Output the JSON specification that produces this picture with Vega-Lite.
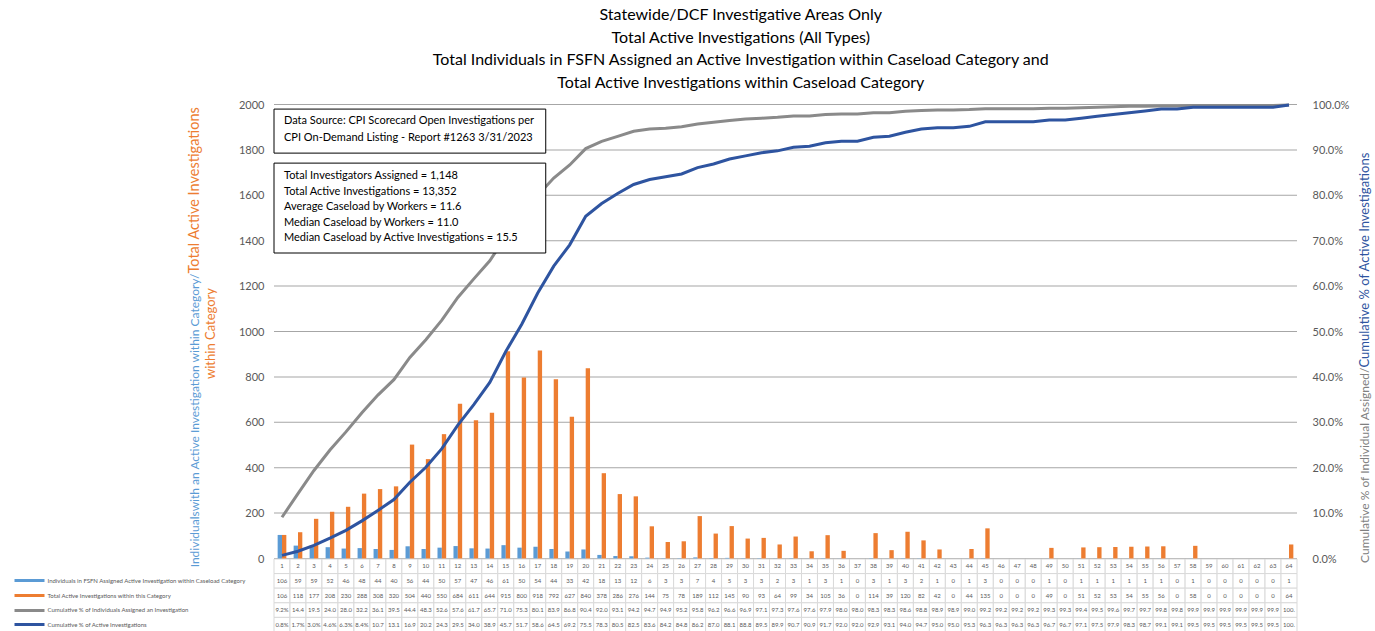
{
  "$schema": "https://vega.github.io/schema/vega-lite/v6.json",
  "padding": {"left": 12, "top": 6, "right": 2, "bottom": 0},
  "background": "white",
  "config": {"font": "Lato", "view": {"stroke": null}},
  "spacing": 0,
  "bounds": "flush",
  "title": {
    "text": ["Statewide/DCF Investigative Areas Only", "Total Active Investigations (All Types)", "Total Individuals in FSFN Assigned an Active Investigation within Caseload Category and", "Total Active Investigations within Caseload Category"],
    "fontSize": 16, "fontWeight": "normal", "color": "#000000", "lineHeight": 22.7, "anchor": "middle", "offset": 8, "dx": 49
  },
  "datasets": {
    "gridlines": [{"g":0},{"g":200},{"g":400},{"g":600},{"g":800},{"g":1000},{"g":1200},{"g":1400},{"g":1600},{"g":1800},{"g":2000}]
  },
  "data": {"values": [
    {"c":1,"ind":106,"act":106,"ci":9.2,"ca":0.8},
    {"c":2,"ind":59,"act":118,"ci":14.4,"ca":1.7},
    {"c":3,"ind":59,"act":177,"ci":19.5,"ca":3.0},
    {"c":4,"ind":52,"act":208,"ci":24.0,"ca":4.6},
    {"c":5,"ind":46,"act":230,"ci":28.0,"ca":6.3},
    {"c":6,"ind":48,"act":288,"ci":32.2,"ca":8.4},
    {"c":7,"ind":44,"act":308,"ci":36.1,"ca":10.7},
    {"c":8,"ind":40,"act":320,"ci":39.5,"ca":13.1},
    {"c":9,"ind":56,"act":504,"ci":44.4,"ca":16.9},
    {"c":10,"ind":44,"act":440,"ci":48.3,"ca":20.2},
    {"c":11,"ind":50,"act":550,"ci":52.6,"ca":24.3},
    {"c":12,"ind":57,"act":684,"ci":57.6,"ca":29.5},
    {"c":13,"ind":47,"act":611,"ci":61.7,"ca":34.0},
    {"c":14,"ind":46,"act":644,"ci":65.7,"ca":38.9},
    {"c":15,"ind":61,"act":915,"ci":71.0,"ca":45.7},
    {"c":16,"ind":50,"act":800,"ci":75.3,"ca":51.7},
    {"c":17,"ind":54,"act":918,"ci":80.1,"ca":58.6},
    {"c":18,"ind":44,"act":792,"ci":83.9,"ca":64.5},
    {"c":19,"ind":33,"act":627,"ci":86.8,"ca":69.2},
    {"c":20,"ind":42,"act":840,"ci":90.4,"ca":75.5},
    {"c":21,"ind":18,"act":378,"ci":92.0,"ca":78.3},
    {"c":22,"ind":13,"act":286,"ci":93.1,"ca":80.5},
    {"c":23,"ind":12,"act":276,"ci":94.2,"ca":82.5},
    {"c":24,"ind":6,"act":144,"ci":94.7,"ca":83.6},
    {"c":25,"ind":3,"act":75,"ci":94.9,"ca":84.2},
    {"c":26,"ind":3,"act":78,"ci":95.2,"ca":84.8},
    {"c":27,"ind":7,"act":189,"ci":95.8,"ca":86.2},
    {"c":28,"ind":4,"act":112,"ci":96.2,"ca":87.0},
    {"c":29,"ind":5,"act":145,"ci":96.6,"ca":88.1},
    {"c":30,"ind":3,"act":90,"ci":96.9,"ca":88.8},
    {"c":31,"ind":3,"act":93,"ci":97.1,"ca":89.5},
    {"c":32,"ind":2,"act":64,"ci":97.3,"ca":89.9},
    {"c":33,"ind":3,"act":99,"ci":97.6,"ca":90.7},
    {"c":34,"ind":1,"act":34,"ci":97.6,"ca":90.9},
    {"c":35,"ind":3,"act":105,"ci":97.9,"ca":91.7},
    {"c":36,"ind":1,"act":36,"ci":98.0,"ca":92.0},
    {"c":37,"ind":0,"act":0,"ci":98.0,"ca":92.0},
    {"c":38,"ind":3,"act":114,"ci":98.3,"ca":92.9},
    {"c":39,"ind":1,"act":39,"ci":98.3,"ca":93.1},
    {"c":40,"ind":3,"act":120,"ci":98.6,"ca":94.0},
    {"c":41,"ind":2,"act":82,"ci":98.8,"ca":94.7},
    {"c":42,"ind":1,"act":42,"ci":98.9,"ca":95.0},
    {"c":43,"ind":0,"act":0,"ci":98.9,"ca":95.0},
    {"c":44,"ind":1,"act":44,"ci":99.0,"ca":95.3},
    {"c":45,"ind":3,"act":135,"ci":99.2,"ca":96.3},
    {"c":46,"ind":0,"act":0,"ci":99.2,"ca":96.3},
    {"c":47,"ind":0,"act":0,"ci":99.2,"ca":96.3},
    {"c":48,"ind":0,"act":0,"ci":99.2,"ca":96.3},
    {"c":49,"ind":1,"act":49,"ci":99.3,"ca":96.7},
    {"c":50,"ind":0,"act":0,"ci":99.3,"ca":96.7},
    {"c":51,"ind":1,"act":51,"ci":99.4,"ca":97.1},
    {"c":52,"ind":1,"act":52,"ci":99.5,"ca":97.5},
    {"c":53,"ind":1,"act":53,"ci":99.6,"ca":97.9},
    {"c":54,"ind":1,"act":54,"ci":99.7,"ca":98.3},
    {"c":55,"ind":1,"act":55,"ci":99.7,"ca":98.7},
    {"c":56,"ind":1,"act":56,"ci":99.8,"ca":99.1},
    {"c":57,"ind":0,"act":0,"ci":99.8,"ca":99.1},
    {"c":58,"ind":1,"act":58,"ci":99.9,"ca":99.5},
    {"c":59,"ind":0,"act":0,"ci":99.9,"ca":99.5},
    {"c":60,"ind":0,"act":0,"ci":99.9,"ca":99.5},
    {"c":61,"ind":0,"act":0,"ci":99.9,"ca":99.5},
    {"c":62,"ind":0,"act":0,"ci":99.9,"ca":99.5},
    {"c":63,"ind":0,"act":0,"ci":99.9,"ca":99.5},
    {"c":64,"ind":1,"act":64,"ci":100,"ca":100}
  ]},
  "vconcat": [
    {
      "width": 1023,
      "height": 454,
      "resolve": {"scale": {"y": "independent"}},
      "layer": [
        {
          "data": {"name": "gridlines"},
          "mark": {"type": "rect", "fill": "#a6a6a6", "y2Offset": -1},
          "encoding": {
            "x": {"datum": 1, "type": "ordinal", "axis": null, "bandPosition": 0},
            "x2": {"datum": 64, "bandPosition": 1},
            "y": {"field": "g", "type": "quantitative", "scale": {"domain": [0, 2000]}, "axis": null},
            "y2": {"field": "g"}
          }
        },
        {
          "data": {"values": [{}]},
          "mark": {"type": "rule", "opacity": 0},
          "encoding": {
            "y": {"datum": 0, "type": "quantitative", "scale": {"domain": [0, 2000]},
              "axis": {"orient": "left", "labels": false, "ticks": false, "domain": false, "grid": false,
                "title": "Total Active Investigations", "titleColor": "#ed7d31", "titleFontSize": 14.5, "titleFontWeight": "normal",
                "titleAngle": 270, "titleX": -80, "titleY": 168, "titleAlign": "left", "titleBaseline": "middle"}}
          }
        },
        {
          "transform": [{"fold": ["ind", "act"]}],
          "mark": {"type": "bar"},
          "encoding": {
            "x": {"field": "c", "type": "ordinal", "axis": null, "scale": {"paddingInner": 0, "paddingOuter": 0}},
            "xOffset": {"field": "key", "type": "nominal", "scale": {"domain": ["ind", "act"], "paddingInner": 0, "paddingOuter": 0.84}},
            "y": {"field": "value", "type": "quantitative", "scale": {"domain": [0, 2000]},
              "axis": {"orient": "left", "values": [0,200,400,600,800,1000,1200,1400,1600,1800,2000], "format": "d",
                "labelFontSize": 11, "labelColor": "#595959", "labelPadding": 10, "ticks": false, "domain": false, "grid": false,
                "title": "Individualswith an Active Investigation within Category/", "titleColor": "#5b9bd5",
                "titleFontSize": 12, "titleFontWeight": "normal", "titleAngle": 270, "titleX": -80, "titleY": 168,
                "titleAlign": "right", "titleBaseline": "middle"}},
            "color": {"field": "key", "type": "nominal", "scale": {"domain": ["ind", "act", "ci", "ca"], "range": ["#5b9bd5", "#ed7d31", "#8a8a8a", "#2e54a0"]}, "legend": null}
          }
        },
        {
          "data": {"values": [{}]},
          "mark": {"type": "rule", "opacity": 0},
          "encoding": {
            "y": {"datum": 0, "type": "quantitative", "scale": {"domain": [0, 2000]},
              "axis": {"orient": "left", "labels": false, "ticks": false, "domain": false, "grid": false,
                "title": "within Category", "titleColor": "#ed7d31", "titleFontSize": 13, "titleFontWeight": "normal",
                "titleAngle": 270, "titleX": -64, "titleY": 228, "titleAlign": "center", "titleBaseline": "middle"}}
          }
        },
        {
          "transform": [{"fold": ["ci", "ca"]}],
          "mark": {"type": "line", "strokeWidth": 3},
          "encoding": {
            "x": {"field": "c", "type": "ordinal", "axis": null},
            "y": {"field": "value", "type": "quantitative", "scale": {"domain": [0, 100]},
              "axis": {"orient": "right", "values": [0,10,20,30,40,50,60,70,80,90,100], "labelExpr": "format(datum.value, '.1f') + '%'",
                "labelFontSize": 11, "labelColor": "#595959", "labelPadding": 15, "ticks": false, "domain": false, "grid": false,
                "title": "Cumulative % of Individual Assigned/", "titleColor": "#808080", "titleFontSize": 12, "titleFontWeight": "normal",
                "titleAngle": 270, "titleX": 67, "titleY": 262, "titleAlign": "right", "titleBaseline": "middle"}},
            "color": {"field": "key", "type": "nominal", "legend": null}
          }
        },
        {
          "data": {"values": [{}]},
          "mark": {"type": "rule", "opacity": 0},
          "encoding": {
            "y": {"datum": 0, "type": "quantitative", "scale": {"domain": [0, 100]},
              "axis": {"orient": "right", "labels": false, "ticks": false, "domain": false, "grid": false,
                "title": "Cumulative % of Active Investigations", "titleColor": "#2e54a0", "titleFontSize": 13, "titleFontWeight": "normal",
                "titleAngle": 270, "titleX": 67, "titleY": 262, "titleAlign": "left", "titleBaseline": "middle"}}
          }
        },
        {
          "layer": [
            {
              "data": {"values": [{}]},
              "mark": {"type": "rect", "fill": "white", "stroke": "#000000", "strokeWidth": 1},
              "encoding": {
                "x": {"datum": 1, "type": "ordinal", "axis": null, "bandPosition": 0},
                "x2": {"datum": 18, "bandPosition": 0},
                "y": {"datum": 1982, "type": "quantitative", "axis": null, "scale": {"domain": [0, 2000]}},
                "y2": {"datum": 1788}
              }
            },
            {
              "data": {"values": [{}]},
              "mark": {"type": "rect", "fill": "white", "stroke": "#000000", "strokeWidth": 1},
              "encoding": {
                "x": {"datum": 1, "type": "ordinal", "axis": null, "bandPosition": 0},
                "x2": {"datum": 18, "bandPosition": 0},
                "y": {"datum": 1744, "type": "quantitative", "axis": null},
                "y2": {"datum": 1348}
              }
            },
            {
              "data": {"values": [{}]},
              "mark": {"type": "text", "align": "left", "baseline": "middle", "dx": 10, "fontSize": 11, "lineHeight": 17, "color": "#000000",
                "text": ["Data Source: CPI Scorecard Open Investigations per", "CPI On-Demand Listing - Report #1263 3/31/2023"]},
              "encoding": {
                "x": {"datum": 1, "type": "ordinal", "axis": null, "bandPosition": 0},
                "y": {"datum": 1929, "type": "quantitative", "axis": null}
              }
            },
            {
              "data": {"values": [{}]},
              "mark": {"type": "text", "align": "left", "baseline": "middle", "dx": 10, "fontSize": 11, "lineHeight": 15.5, "color": "#000000",
                "text": ["Total Investigators Assigned = 1,148", "Total Active Investigations = 13,352", "Average Caseload by Workers = 11.6", "Median Caseload by Workers = 11.0", "Median Caseload by Active Investigations = 15.5"]},
              "encoding": {
                "x": {"datum": 1, "type": "ordinal", "axis": null, "bandPosition": 0},
                "y": {"datum": 1687, "type": "quantitative", "axis": null}
              }
            }
          ]
        }
      ]
    },
    {
      "width": 1023,
      "height": 73,
      "transform": [{"fold": ["c", "ind", "act", "ci", "ca"], "as": ["row", "val"]}],
      "encoding": {
        "x": {"field": "c", "type": "ordinal", "axis": null, "scale": {"paddingInner": 0, "paddingOuter": 0}},
        "y": {"field": "row", "type": "nominal", "scale": {"domain": ["c", "ind", "act", "ci", "ca"], "paddingInner": 0, "paddingOuter": 0},
          "axis": {"orient": "left", "offset": 230, "tickSize": 30, "tickWidth": 3,
            "tickColor": {"expr": "datum.value == 'ind' ? '#5b9bd5' : datum.value == 'act' ? '#ed7d31' : datum.value == 'ci' ? '#8a8a8a' : datum.value == 'ca' ? '#2e54a0' : 'transparent'"},
            "labelAlign": "left", "labelPadding": -33, "labelFontSize": 6, "labelColor": "#595959", "labelLimit": 0,
            "labelExpr": "datum.value == 'ind' ? 'Individuals in FSFN  Assigned Active Investigation within Caseload Category' : datum.value == 'act' ? 'Total Active Investigations  within this Category' : datum.value == 'ci' ? 'Cumulative % of Individuals Assigned an Investigation' : datum.value == 'ca' ? 'Cumulative % of Active Investigations' : ''",
            "domain": false, "grid": false, "title": null}}
      },
      "layer": [
        {"mark": {"type": "rect", "fill": "white", "stroke": "#d9d9d9", "strokeWidth": 1}},
        {"mark": {"type": "text", "fontSize": 6, "color": "#595959",
          "text": {"expr": "datum.row == 'ci' || datum.row == 'ca' ? (datum.val >= 100 ? '100.' : datum.val < 10 ? format(datum.val, '.1f') + '%' : format(datum.val, '.1f')) : format(datum.val, 'd')"}}}
      ]
    }
  ]
}
